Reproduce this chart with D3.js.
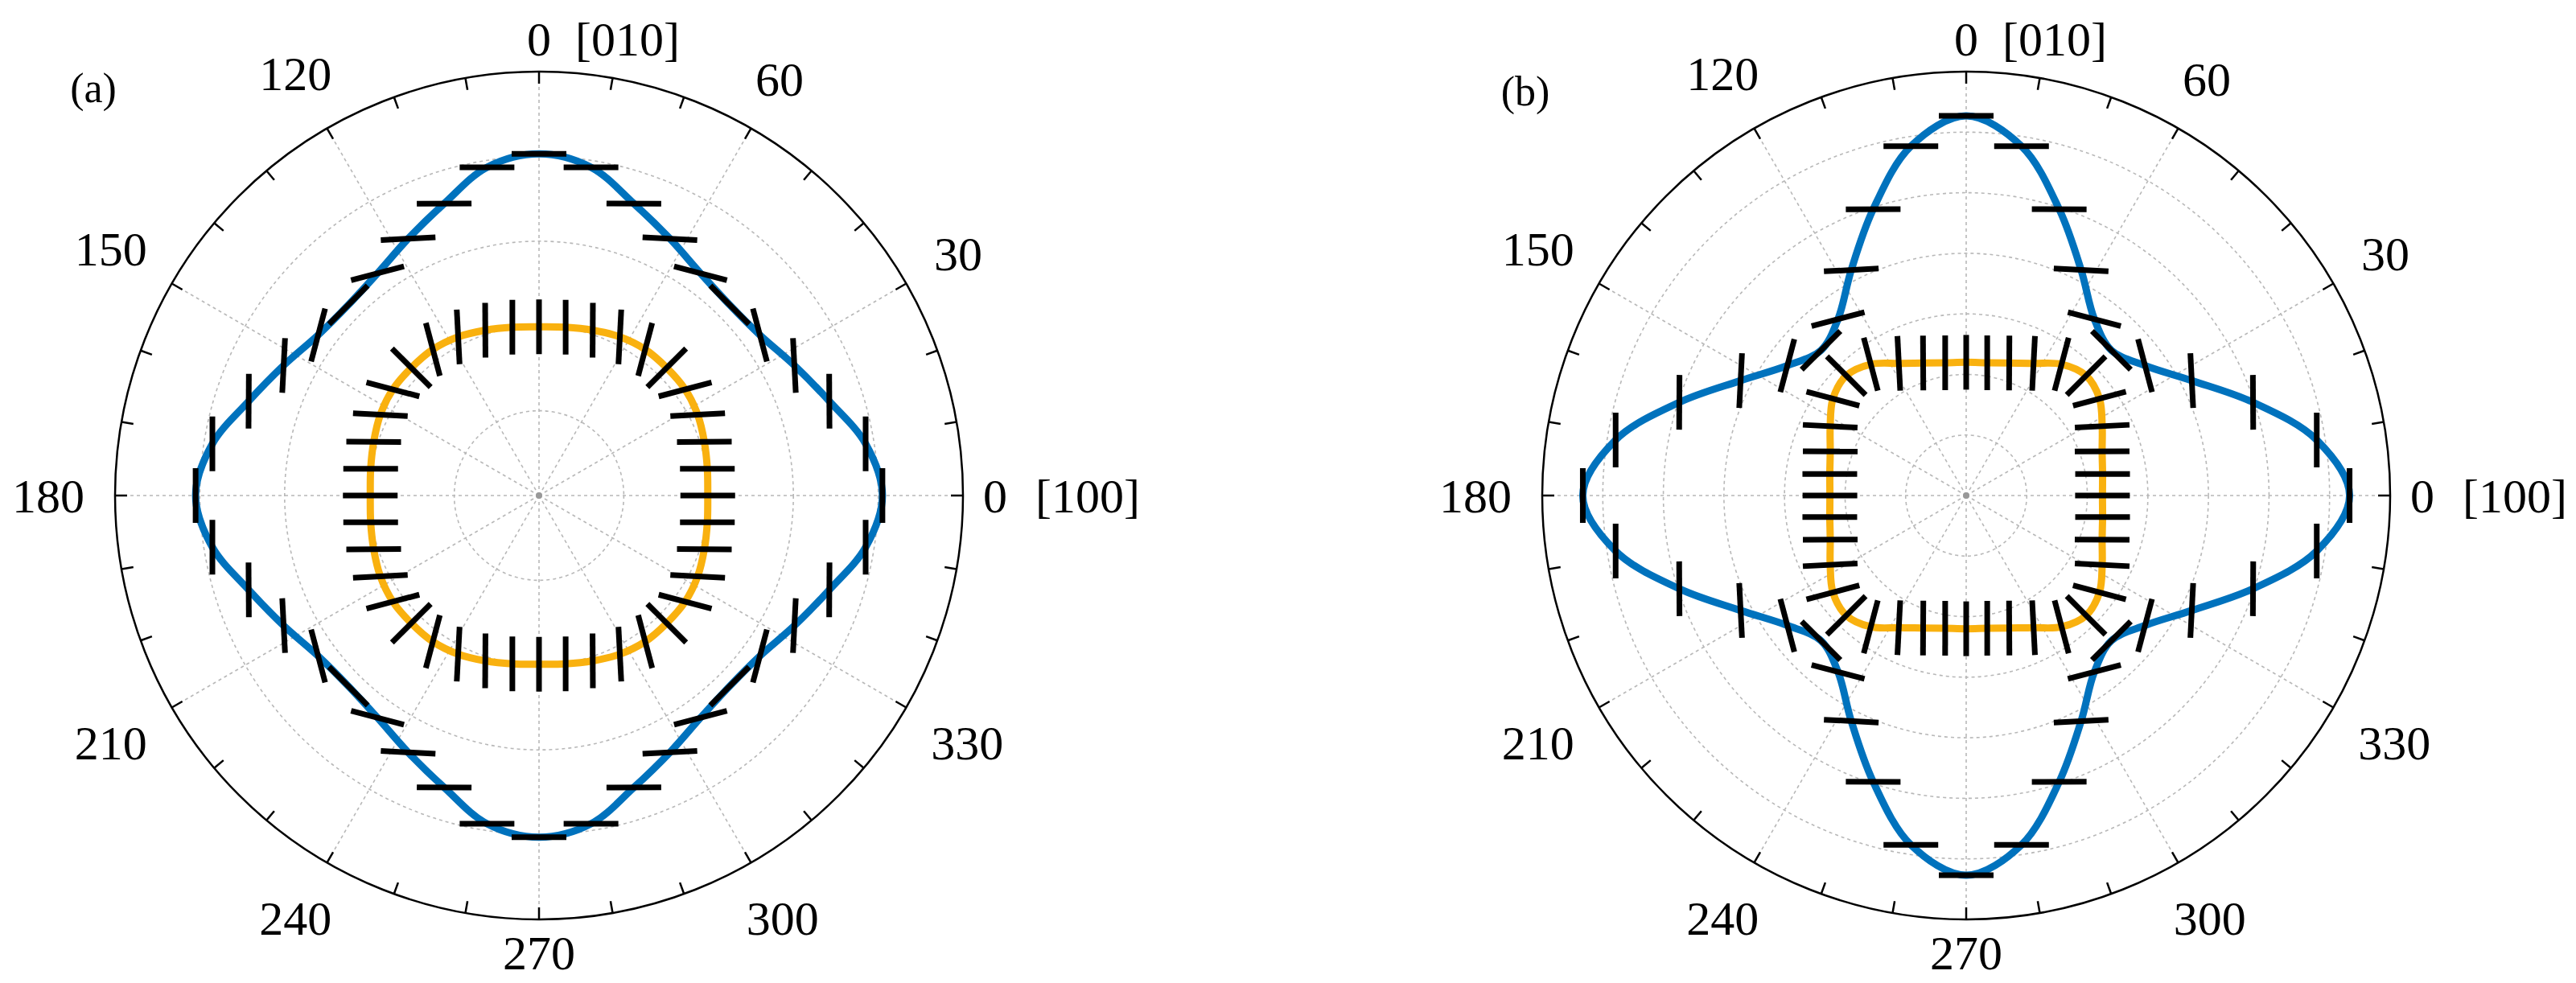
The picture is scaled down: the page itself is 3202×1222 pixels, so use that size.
<!DOCTYPE html>
<html><head><meta charset="utf-8">
<script src="https://cdn.jsdelivr.net/npm/d3@7"></script>
<style>body{margin:0;background:#fff}svg{display:block}</style>
</head><body>
<svg id="c" width="3202" height="1222"></svg>
<script>
// angles of measured points (degrees)
const angles = d3.range(0, 360, 9);
// panel (a)
const blueA = [4.05,3.90,3.60,3.38,3.22,3.18,3.24,3.40,3.62,3.92,4.03,3.92,3.62,3.40,3.24,3.18,3.22,3.38,3.60,3.90,
               4.05,3.90,3.60,3.38,3.22,3.18,3.24,3.40,3.62,3.92,4.03,3.92,3.62,3.40,3.24,3.18,3.22,3.38,3.60,3.90];
const orangeA = [1.99,2.01,2.05,2.10,2.13,2.13,2.13,2.10,2.05,2.01,1.99,2.01,2.05,2.10,2.13,2.13,2.13,2.10,2.05,2.01,
                 1.99,2.01,2.05,2.10,2.13,2.13,2.13,2.10,2.05,2.01,1.99,2.01,2.05,2.10,2.13,2.13,2.13,2.10,2.05,2.01];
// panel (b)
const blueB = [6.33,5.86,4.98,4.18,3.65,3.39,3.60,4.18,4.97,5.84,6.27,5.84,4.97,4.18,3.60,3.39,3.65,4.18,4.98,5.86,
               6.33,5.86,4.98,4.18,3.65,3.39,3.60,4.18,4.97,5.84,6.27,5.84,4.97,4.18,3.60,3.39,3.65,4.18,4.98,5.86];
const orangeB = [2.25,2.28,2.36,2.52,2.72,2.80,2.68,2.45,2.30,2.22,2.20,2.22,2.30,2.45,2.68,2.80,2.72,2.52,2.36,2.28,
                 2.25,2.28,2.36,2.52,2.72,2.80,2.68,2.45,2.30,2.22,2.20,2.22,2.30,2.45,2.68,2.80,2.72,2.52,2.36,2.28];
const angleTicks = [0,30,60,90,120,150,180,210,240,270,300,330];
const angleLabels = ["0","30","60","0","120","150","180","210","240","270","300","330"];
const panels = [
  {id:"(a)", cx:670, cy:616, rmax:5, rings:5, blue:blueA, orange:orangeA, tagX:116, tagY:109},
  {id:"(b)", cx:2444, cy:616, rmax:7, rings:7, blue:blueB, orange:orangeB, tagX:1896, tagY:113}
];
const R = 527;
const svg = d3.select("#c");
const font = "'Liberation Serif','Times New Roman',serif";
const rad = d => d*Math.PI/180;
function sharpen(x){const n=4;return Math.pow(x,n)/(Math.pow(x,n)+Math.pow(1-x,n));}
function tangentDir(deg){const q=Math.floor(deg/90);const f=(deg-q*90)/90;return 90+q*90+90*sharpen(f);}

panels.forEach(p=>{
  const g = svg.append("g").attr("transform",`translate(${p.cx},${p.cy})`);
  const r = d3.scaleLinear().domain([0,p.rmax]).range([0,R]);
  g.selectAll("circle.ring").data(d3.range(1,p.rings)).join("circle")
    .attr("r",d=>r(d)).attr("fill","none").attr("stroke","#b8b8b8")
    .attr("stroke-width",1.6).attr("stroke-dasharray","4,4");
  g.selectAll("line.spoke").data(angleTicks).join("line")
    .attr("x1",0).attr("y1",0)
    .attr("x2",d=>R*Math.cos(rad(d))).attr("y2",d=>-R*Math.sin(rad(d)))
    .attr("stroke","#b8b8b8").attr("stroke-width",1.6).attr("stroke-dasharray","4,4");
  g.append("circle").attr("r",4).attr("fill","#999");
  g.append("circle").attr("r",R).attr("fill","none").attr("stroke","#000").attr("stroke-width",2.5);
  g.selectAll("line.tk").data(d3.range(0,360,10)).join("line")
    .attr("x1",d=>R*Math.cos(rad(d))).attr("y1",d=>-R*Math.sin(rad(d)))
    .attr("x2",d=>(R-15)*Math.cos(rad(d))).attr("y2",d=>-(R-15)*Math.sin(rad(d)))
    .attr("stroke","#000").attr("stroke-width",2.5);
  angleTicks.forEach((a,i)=>{
    const t = angleLabels[i];
    const hw = t.length*15, hh = 21;
    const gap = (a===90||a===270)?20:(a===0?25:38);
    const rl = R+gap+hw*Math.abs(Math.cos(rad(a)))+hh*Math.abs(Math.sin(rad(a)));
    const x = rl*Math.cos(rad(a)), y = -rl*Math.sin(rad(a));
    g.append("text").attr("x",x).attr("y",y).attr("dy","0.35em").attr("text-anchor","middle")
      .attr("font-family",font).attr("font-size",60).text(t);
    if(a===90) g.append("text").attr("x",x+45).attr("y",y).attr("dy","0.35em")
      .attr("font-family",font).attr("font-size",60).text("[010]");
    if(a===0) g.append("text").attr("x",x+50).attr("y",y).attr("dy","0.35em")
      .attr("font-family",font).attr("font-size",60).text("[100]");
  });
  svg.append("text").attr("x",p.tagX).attr("y",p.tagY).attr("dy","0.35em").attr("text-anchor","middle")
    .attr("font-family",font).attr("font-size",52).text(p.id);
  const line = d3.lineRadial().angle(d=>rad(90-d[0])).radius(d=>r(d[1])).curve(d3.curveCatmullRomClosed.alpha(0.5));
  [[p.blue,"#0072BD"],[p.orange,"#F9B10F"]].forEach(([vals,col])=>{
    g.append("path").datum(angles.map((a,i)=>[a,vals[i]])).attr("d",line)
      .attr("fill","none").attr("stroke",col).attr("stroke-width",9);
  });
  const h = 34;
  [[p.blue,0],[p.orange,90]].forEach(([vals,off])=>{
    g.selectAll(null).data(angles.map((a,i)=>({a,v:vals[i]}))).join("line")
      .each(function(d){
        const x = r(d.v)*Math.cos(rad(d.a)), y = -r(d.v)*Math.sin(rad(d.a));
        const phi = rad(tangentDir(d.a)+off);
        d3.select(this).attr("x1",x-h*Math.cos(phi)).attr("y1",y+h*Math.sin(phi))
          .attr("x2",x+h*Math.cos(phi)).attr("y2",y-h*Math.sin(phi));
      })
      .attr("stroke","#000").attr("stroke-width",7);
  });
});
</script>
</body></html>
